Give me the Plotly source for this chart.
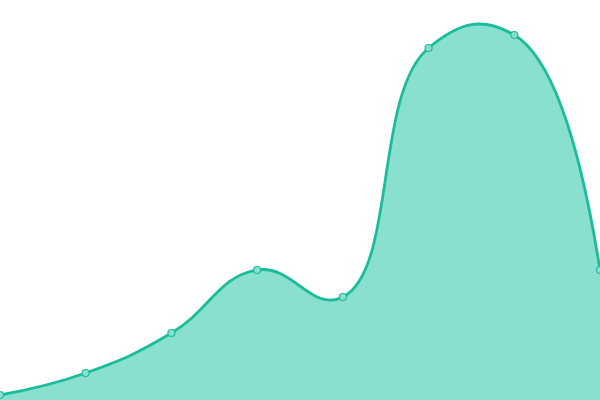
import plotly.graph_objects as go

x_vals = [0, 1, 2, 3, 4, 5, 6, 7]
y_vals = [5, 27, 67, 130, 103, 352, 365, 130]

line_color = "#1abc9c"
fill_color = "#89e0cf"

fig = go.Figure()
fig.add_trace(go.Scatter(
    x=x_vals, y=y_vals,
    mode="lines+markers",
    line=dict(color=line_color, width=2.8, shape="spline", smoothing=1.3),
    fill="tozeroy",
    fillcolor=fill_color,
    marker=dict(size=7, color=fill_color, line=dict(color=line_color, width=1.2)),
    hoverinfo="skip",
))
fig.update_layout(
    width=600, height=400,
    margin=dict(l=0, r=0, t=0, b=0),
    paper_bgcolor="white", plot_bgcolor="white",
    showlegend=False,
    xaxis=dict(visible=False, range=[0, 7], fixedrange=True),
    yaxis=dict(visible=False, range=[0, 400], fixedrange=True),
)
fig.write_html(
    "out.html",
    config={"displayModeBar": False},
    post_script="document.body.style.margin='0';document.body.style.overflow='hidden';",
)
